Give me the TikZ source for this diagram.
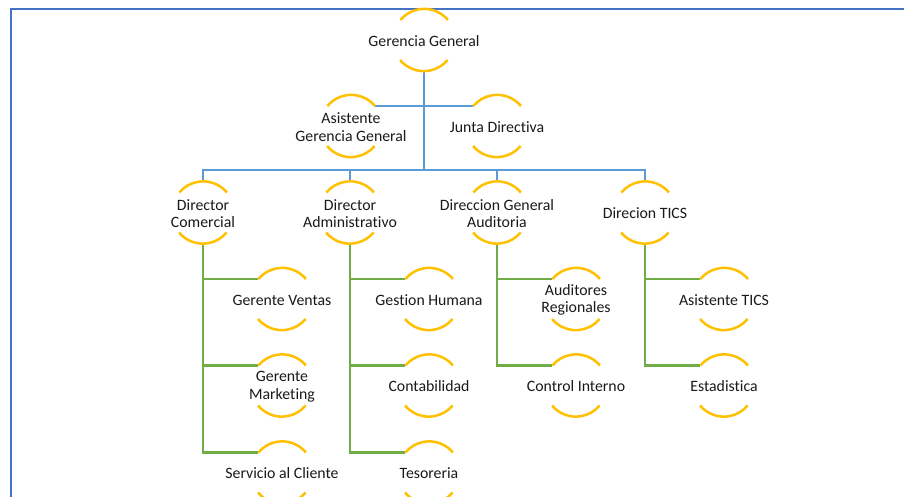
\documentclass[tikz,border=0pt]{standalone}
\usepackage{fontspec}
\setmainfont{Carlito}[Ligatures={NoCommon}]
\usetikzlibrary{calc}
\definecolor{gold}{HTML}{FFC000}
\definecolor{cblue}{HTML}{5B9BD5}
\definecolor{cgreen}{HTML}{70AD47}
\definecolor{fblue}{HTML}{4472C4}
\tikzset{
  orgnode/.style={circle, minimum size=62bp, inner sep=0pt, draw=none,
    label={[align=center, yshift=-1bp, font=\fontsize{15.8bp}{17.5bp}\selectfont, text=black!90]center:#1}},
  arcline/.style={draw=gold, line width=2.5bp},
  blueline/.style={draw=cblue, line width=2.8bp},
  greenline/.style={draw=cgreen, line width=2.8bp},
  frameline/.style={draw=fblue, line width=2.2bp},
}
\newcommand{\orgarcs}[1]{%
  \draw[arcline] (#1.40) arc[start angle=40, end angle=140, radius=31bp];
  \draw[arcline] (#1.220) arc[start angle=220, end angle=320, radius=31bp];
}
\begin{document}
\begin{tikzpicture}[x=1bp,y=-1bp]
\useasboundingbox (0,0) rectangle (904,497);
\draw[frameline] (11,500) -- (11,9) -- (906,9);

\node[orgnode={Gerencia General}] (gg) at (424,40) {};
\node[orgnode={Asistente\\Gerencia General}] (agg) at (351,126) {};
\node[orgnode={Junta Directiva}] (jd) at (497,126) {};

\node[orgnode={Director\\Comercial}] (dc) at (203,212.5) {};
\node[orgnode={Director\\Administrativo}] (da) at (350,212.5) {};
\node[orgnode={Direccion General\\Auditoria}] (dg) at (497,212.5) {};
\node[orgnode={Direcion TICS}] (dt) at (645,212.5) {};

\node[orgnode={Gerente Ventas}] (gv) at (282,299) {};
\node[orgnode={Gerente\\Marketing}] (gm) at (282,385.5) {};
\node[orgnode={Servicio al Cliente}] (sc) at (282,472.5) {};

\node[orgnode={Gestion Humana}] (gh) at (429,299) {};
\node[orgnode={Contabilidad}] (co) at (429,385.5) {};
\node[orgnode={Tesoreria}] (te) at (429,472.5) {};

\node[orgnode={Auditores\\Regionales}] (ar) at (576,299) {};
\node[orgnode={Control Interno}] (ci) at (576,385.5) {};

\node[orgnode={Asistente TICS}] (at) at (724,299) {};
\node[orgnode={Estadistica}] (es) at (724,385.5) {};

\coordinate (bus) at (424,170);

% blue connectors
\draw[blueline] (gg.south) -- (bus);
\draw[blueline] (agg.40) -- (jd.140);
\draw[blueline] (dc.north) -- (dc.north |- bus) -- (dt.north |- bus) -- (dt.north);
\draw[blueline] (da.north) -- (da.north |- bus);
\draw[blueline] (dg.north) -- (dg.north |- bus);

% green connectors
\draw[greenline] (dc.south) |- (sc.140);
\draw[greenline] (dc.south |- gv.140) -- (gv.140);
\draw[greenline] (dc.south |- gm.140) -- (gm.140);

\draw[greenline] (da.south) |- (te.140);
\draw[greenline] (da.south |- gh.140) -- (gh.140);
\draw[greenline] (da.south |- co.140) -- (co.140);

\draw[greenline] (dg.south) |- (ci.140);
\draw[greenline] (dg.south |- ar.140) -- (ar.140);

\draw[greenline] (dt.south) |- (es.140);
\draw[greenline] (dt.south |- at.140) -- (at.140);

% arcs
\foreach \n in {gg,agg,jd,dc,da,dg,dt,gv,gm,sc,gh,co,te,ar,ci,at,es}{\orgarcs{\n}}
\end{tikzpicture}
\end{document}
